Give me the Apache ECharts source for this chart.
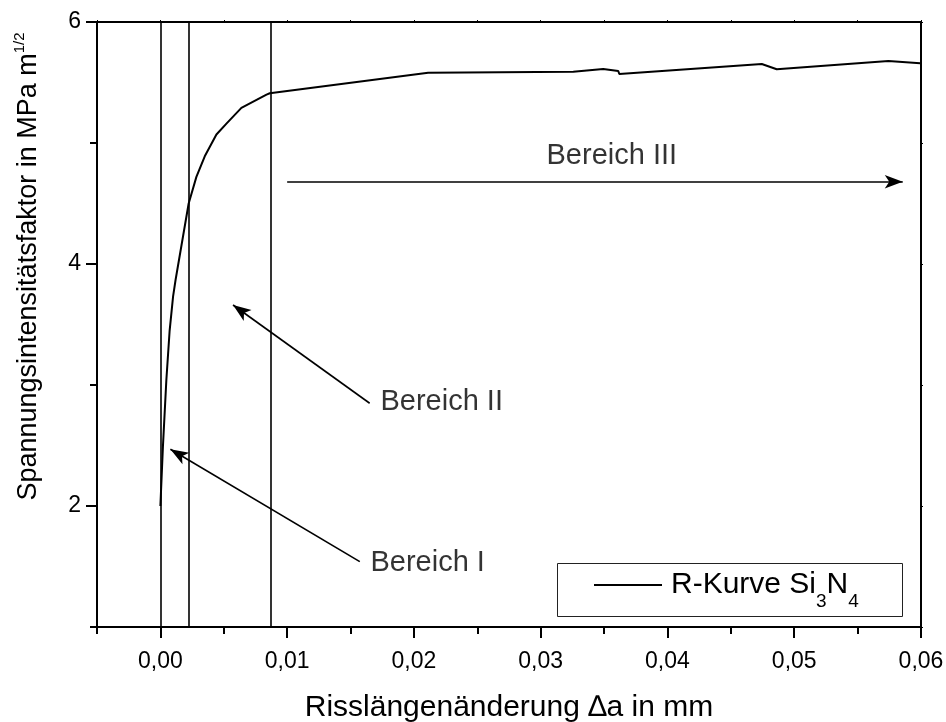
<!DOCTYPE html>
<html>
<head>
<meta charset="utf-8">
<script src="https://cdn.jsdelivr.net/npm/echarts@6/dist/echarts.min.js"></script>
<style>
  html, body { margin: 0; padding: 0; background: #fff; }
  #chart { width: 946px; height: 722px; }
</style>
</head>
<body>
<div id="chart"></div>
<script>
// R-Kurve Si3N4: Risslängenänderung (mm) vs. Spannungsintensitätsfaktor (MPa m^1/2)
const crackLength = [0, 0.0002, 0.00047, 0.00073, 0.001, 0.0012, 0.00223, 0.00284, 0.0035, 0.00442,
  0.00521, 0.00639, 0.00837, 0.00863, 0.02112, 0.03257, 0.03493, 0.03612, 0.0362, 0.04744,
  0.04862, 0.05743, 0.05993];
const stressIntensity = [2.0, 2.49, 3.04, 3.45, 3.73, 3.87, 4.5, 4.72, 4.89, 5.07,
  5.16, 5.29, 5.4, 5.411, 5.581, 5.589, 5.612, 5.595, 5.57, 5.653,
  5.609, 5.678, 5.659];

// boundaries between Bereich I / II / III
const regionBorders = [0, 0.00223, 0.00871];

// annotation arrows: [x0, y0, x1, y1], head at the second point
const arrows = [
  [0.01, 4.68, 0.05856, 4.68],
  [0.01651, 2.849, 0.00573, 3.661],
  [0.01573, 1.54, 0.00079, 2.469]
];
// annotation labels: [x (left edge), y, text]
const labels = [
  [0.03046, 4.893, 'Bereich III'],
  [0.01736, 2.858, 'Bereich II'],
  [0.01657, 1.531, 'Bereich I']
];

const xMajor = [0, 0.01, 0.02, 0.03, 0.04, 0.05, 0.06];
const yMajor = [2, 4, 6];

const FONT = "'Liberation Sans', Arial, sans-serif";
const chart = echarts.init(document.getElementById('chart'), null, { renderer: 'canvas' });

const baseX = { type: 'value', min: -0.005, max: 0.06, interval: 0.005, splitLine: { show: false } };
const baseY = { type: 'value', min: 1, max: 6, interval: 1, splitLine: { show: false } };

const option = {
  animation: false,
  backgroundColor: '#fff',
  textStyle: { fontFamily: FONT },
  grid: { left: 97, right: 25, top: 22, bottom: 95, containLabel: false, outerBoundsMode: 'none' },
  legend: {
    data: ['R-Kurve'],
    left: 594,
    top: 570,
    padding: 0,
    icon: 'rect',
    itemWidth: 68,
    itemHeight: 2,
    formatter: () => 'R-Kurve Si{sub|3}N{sub|4}',
    textStyle: {
      fontSize: 30, color: '#000', fontFamily: FONT, padding: [0, 0, 0, 4],
      rich: { sub: { fontSize: 19, color: '#000', fontFamily: FONT, padding: [34, 0, 0, 0] } }
    }
  },
  graphic: [{
    type: 'rect',
    shape: { x: 557.5, y: 563.5, width: 345, height: 53 },
    style: { fill: 'none', stroke: '#222', lineWidth: 1 },
    z: 10
  }],
  xAxis: [
    Object.assign({}, baseX, {
      position: 'bottom',
      axisLine: { onZero: false, lineStyle: { color: '#000', width: 2 } },
      axisTick: { length: 7, lineStyle: { color: '#000', width: 2 } },
      axisLabel: {
        fontSize: 23, color: '#000', fontFamily: FONT, margin: 23,
        formatter: v => (Math.round(v * 200) % 2 === 0 ? v.toFixed(2).replace('.', ',') : '')
      },
      name: 'Risslängenänderung \u2206a in mm',
      nameLocation: 'middle',
      nameGap: 66,
      nameTextStyle: { fontSize: 30, color: '#000', fontFamily: FONT }
    }),
    Object.assign({}, baseX, {
      position: 'bottom',
      axisLine: { show: false, onZero: false },
      axisTick: { length: 11, customValues: xMajor, lineStyle: { color: '#000', width: 2 } },
      axisLabel: { show: false }
    }),
    Object.assign({}, baseX, {
      position: 'top',
      axisLine: { onZero: false, lineStyle: { color: '#000', width: 2 } },
      axisTick: { length: 2, lineStyle: { color: '#000', width: 1 } },
      axisLabel: { show: false }
    })
  ],
  yAxis: [
    Object.assign({}, baseY, {
      position: 'left',
      axisLine: { onZero: false, lineStyle: { color: '#000', width: 2 } },
      axisTick: { length: 7, lineStyle: { color: '#000', width: 2 } },
      axisLabel: {
        fontSize: 23, color: '#000', fontFamily: FONT, margin: 16,
        formatter: v => (v % 2 === 0 ? String(v) : '')
      },
      name: 'Spannungsintensitätsfaktor in MPa m{sup|1/2}',
      nameLocation: 'middle',
      nameGap: 52,
      nameTextStyle: {
        fontSize: 27, color: '#000', fontFamily: FONT, padding: [0, 0, 0, 116],
        rich: { sup: { fontSize: 15, color: '#000', fontFamily: FONT, padding: [0, 0, 18, 0] } }
      }
    }),
    Object.assign({}, baseY, {
      position: 'left',
      axisLine: { show: false, onZero: false },
      axisTick: { length: 11, customValues: yMajor, lineStyle: { color: '#000', width: 2 } },
      axisLabel: { show: false }
    }),
    Object.assign({}, baseY, {
      position: 'right',
      axisLine: { onZero: false, lineStyle: { color: '#000', width: 2 } },
      axisTick: { length: 2, lineStyle: { color: '#000', width: 1 } },
      axisLabel: { show: false }
    })
  ],
  series: [
    {
      name: 'R-Kurve',
      type: 'line',
      data: crackLength.map((x, i) => [x, stressIntensity[i]]),
      symbol: 'none',
      lineStyle: { color: '#000', width: 2 },
      itemStyle: { color: '#000' },
      z: 5
    },
    {
      name: 'borders',
      type: 'line',
      data: [],
      markLine: {
        silent: true,
        symbol: 'none',
        label: { show: false },
        lineStyle: { color: '#000', width: 1.6, type: 'solid' },
        data: regionBorders.map(x => [{ coord: [x, 1] }, { coord: [x, 6] }])
      }
    },
    {
      name: 'arrows',
      type: 'line',
      data: [],
      markLine: {
        silent: true,
        symbol: ['none', 'arrow'],
        symbolSize: [10, 18],
        label: { show: false },
        lineStyle: { color: '#000', width: 1.6, type: 'solid' },
        data: arrows.map(a => [{ coord: [a[0], a[1]] }, { coord: [a[2], a[3]] }])
      }
    },
    {
      name: 'labels',
      type: 'scatter',
      symbolSize: 0,
      data: labels.map(l => ({ value: [l[0], l[1]], name: l[2] })),
      label: {
        show: true,
        position: 'right',
        distance: 0,
        formatter: p => p.name,
        fontSize: 29,
        color: '#000',
        fontFamily: FONT
      }
    }
  ]
};

chart.setOption(option);
</script>
</body>
</html>
